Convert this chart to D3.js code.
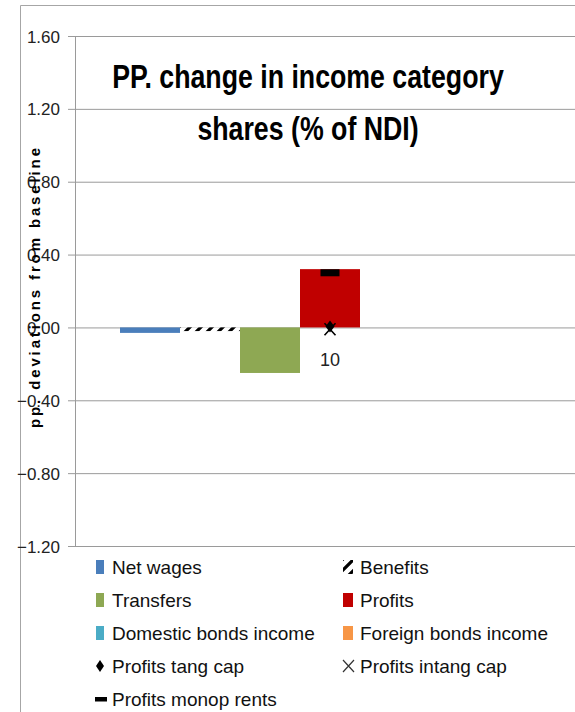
<!DOCTYPE html>
<html>
<head>
<meta charset="utf-8">
<script src="https://cdn.jsdelivr.net/npm/d3@7"></script>
<style>
  html, body { margin: 0; padding: 0; background: #fff; }
  svg { display: block; }
</style>
</head>
<body>
<svg id="chart" width="575" height="712"></svg>
<script>
// ---- data ----
const categories = ["10"];
const barSeries = ["Net wages", "Benefits", "Transfers", "Profits", "Domestic bonds income", "Foreign bonds income"];
const barValues = [-0.03, -0.02, -0.25, 0.32, 0.0, 0.0];
const barColors = ["#4A7EBB", "url(#benefitsPattern)", "#8EA853", "#C00000", "#4BACC6", "#F79646"];
const markerSeries = ["Profits tang cap", "Profits intang cap", "Profits monop rents"];
const markerValues = [0.005, -0.01, 0.30];
const yTicks = [1.6, 1.2, 0.8, 0.4, 0.0, -0.4, -0.8, -1.2];
const titleLines = ["PP. change in income category", "shares (% of NDI)"];
const yTitle = "pp. deviations from baseline";

// ---- setup ----
const svg = d3.select("#chart");
const defs = svg.append("defs");
const pat = defs.append("pattern")
  .attr("id", "benefitsPattern")
  .attr("patternUnits", "userSpaceOnUse")
  .attr("width", 11).attr("height", 11);
pat.append("rect").attr("width", 11).attr("height", 11).attr("fill", "#fff");
pat.append("path")
  .attr("d", "M-2,13 L13,-2 M-4,4 L4,-4 M7,15 L15,7")
  .attr("stroke", "#000").attr("stroke-width", 3.2);

const plot = { left: 75, right: 585, top: 36, bottom: 546 };

const y = d3.scaleLinear().domain([-1.2, 1.6]).range([plot.bottom, plot.top]);
const x0 = d3.scaleBand().domain(categories).range([plot.left, plot.right]).padding(0);
const x1 = d3.scaleBand().domain([...barSeries, "spare"]).range([0, x0.bandwidth()])
  .paddingInner(0).paddingOuter(0.75);

// outer frame
svg.append("path")
  .attr("d", "M20.5,712 L20.5,5.5 L575,5.5")
  .attr("fill", "none").attr("stroke", "#a6a6a6").attr("stroke-width", 1);

// gridlines + axis
const yAxis = d3.axisLeft(y).tickValues(yTicks)
  .tickSize(-(575 - plot.left)).tickSizeOuter(0)
  .tickFormat(d3.format(".2f"));
const gAxis = svg.append("g").attr("transform", `translate(${plot.left},0)`).call(yAxis);
gAxis.select(".domain").remove();
gAxis.selectAll(".tick line").attr("stroke", "#9a9a9a").attr("x1", -7).attr("x2", 575 - plot.left);
gAxis.selectAll(".tick text")
  .attr("x", -15)
  .attr("dy", "0.36em")
  .attr("fill", "#222")
  .style("font-family", "'Liberation Sans', Arial, sans-serif")
  .style("font-size", "17px");
svg.append("line")
  .attr("x1", plot.left + 0.5).attr("x2", plot.left + 0.5)
  .attr("y1", plot.top).attr("y2", plot.bottom)
  .attr("stroke", "#9a9a9a");

// bars
const gBars = svg.append("g");
categories.forEach(cat => {
  barSeries.forEach((s, i) => {
    const v = barValues[i];
    if (v === 0) return;
    gBars.append("rect")
      .attr("x", x0(cat) + x1(s))
      .attr("width", x1.bandwidth())
      .attr("y", y(Math.max(0, v)))
      .attr("height", Math.abs(y(v) - y(0)))
      .attr("fill", barColors[i]);
  });
});

// markers (at category centre)
const cx = x0(categories[0]) + x0.bandwidth() / 2;
const gM = svg.append("g");
gM.append("rect")
  .attr("x", cx - 9.5).attr("y", y(markerValues[2]) - 3.5)
  .attr("width", 19).attr("height", 7).attr("fill", "#000");
const xi = y(markerValues[1]);
gM.append("path")
  .attr("d", `M${cx - 5.5},${xi - 6} L${cx + 5.5},${xi + 6} M${cx + 5.5},${xi - 6} L${cx - 5.5},${xi + 6}`)
  .attr("stroke", "#000").attr("stroke-width", 1.6);
const yt = y(markerValues[0]);
gM.append("path")
  .attr("d", `M${cx},${yt - 6} L${cx + 4.5},${yt} L${cx},${yt + 6} L${cx - 4.5},${yt} Z`)
  .attr("fill", "#000");

// category label
svg.append("text")
  .attr("x", cx).attr("y", y(0) + 39)
  .attr("text-anchor", "middle")
  .attr("fill", "#222")
  .style("font-family", "'Liberation Sans', Arial, sans-serif")
  .style("font-size", "18px")
  .text(categories[0]);

// title (condensed via horizontal scale)
const titleBaselines = [88, 140];
titleLines.forEach((t, i) => {
  svg.append("text")
    .attr("transform", `translate(308,${titleBaselines[i]}) scale(0.81,1)`)
    .attr("text-anchor", "middle")
    .attr("fill", "#000")
    .style("font-family", "'Liberation Sans', Arial, sans-serif")
    .style("font-weight", "bold")
    .style("font-size", "33px")
    .text(t);
});

// y axis title
svg.append("text")
  .attr("transform", "translate(40,288) rotate(-90)")
  .attr("text-anchor", "middle")
  .attr("textLength", 280)
  .attr("lengthAdjust", "spacing")
  .attr("fill", "#000")
  .style("font-family", "'Liberation Sans', Arial, sans-serif")
  .style("font-weight", "bold")
  .style("font-size", "15px")
  .text(yTitle);

// legend
const legendItems = [
  { name: "Net wages", type: "rect", fill: barColors[0] },
  { name: "Benefits", type: "rect", fill: barColors[1] },
  { name: "Transfers", type: "rect", fill: barColors[2] },
  { name: "Profits", type: "rect", fill: barColors[3] },
  { name: "Domestic bonds income", type: "rect", fill: barColors[4] },
  { name: "Foreign bonds income", type: "rect", fill: barColors[5] },
  { name: markerSeries[0], type: "diamond" },
  { name: markerSeries[1], type: "x" },
  { name: markerSeries[2], type: "dash" }
];
const colX = [96, 343];
const rowY = [574, 607, 640, 673, 706];
const gL = svg.append("g");
legendItems.forEach((it, i) => {
  const col = i % 2, row = Math.floor(i / 2);
  const sx = colX[col], by = rowY[row];
  const g = gL.append("g");
  const cy = by - 7;
  if (it.type === "rect") {
    g.append("rect").attr("x", sx).attr("y", by - 14)
      .attr("width", col === 0 ? 8 : 10).attr("height", 14).attr("fill", it.fill);
  } else if (it.type === "diamond") {
    g.append("path")
      .attr("d", `M${sx + 4},${cy - 6} L${sx + 8},${cy} L${sx + 4},${cy + 6} L${sx},${cy} Z`)
      .attr("fill", "#000");
  } else if (it.type === "x") {
    g.append("path")
      .attr("d", `M${sx},${cy - 6} L${sx + 11},${cy + 6} M${sx + 11},${cy - 6} L${sx},${cy + 6}`)
      .attr("stroke", "#333").attr("stroke-width", 1.2);
  } else if (it.type === "dash") {
    g.append("rect").attr("x", sx - 1).attr("y", cy - 2).attr("width", 12).attr("height", 4.5).attr("fill", "#000");
  }
  g.append("text")
    .attr("x", col === 0 ? 112 : 360).attr("y", by)
    .attr("fill", "#111")
    .style("font-family", "'Liberation Sans', Arial, sans-serif")
    .style("font-size", "19px")
    .text(it.name);
});
</script>
</body>
</html>
